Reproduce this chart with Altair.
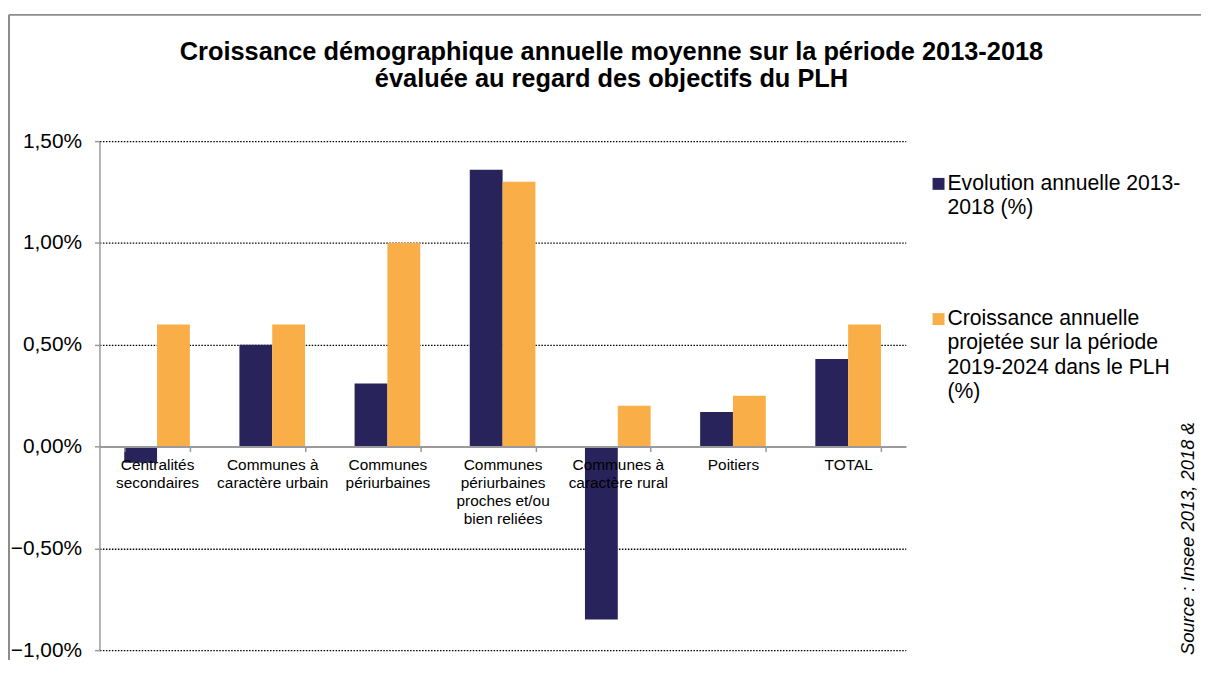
import altair as alt
import pandas as pd

# ---- data ----
categories = [
    "Centralités\nsecondaires",
    "Communes à\ncaractère urbain",
    "Communes\npériurbaines",
    "Communes\npériurbaines\nproches et/ou\nbien reliées",
    "Communes à\ncaractère rural",
    "Poitiers",
    "TOTAL",
]
series = [
    "Evolution annuelle 2013-2018 (%)",
    "Croissance annuelle projetée sur la période 2019-2024 dans le PLH (%)",
]
evolution = [-0.08, 0.50, 0.31, 1.36, -0.85, 0.17, 0.43]
projection = [0.60, 0.60, 1.00, 1.30, 0.20, 0.25, 0.60]
legend_lines = [
    ["Evolution annuelle 2013-", "2018 (%)"],
    ["Croissance annuelle", "projetée sur la période", "2019-2024 dans le PLH", "(%)"],
]
colors = ["#29235C", "#F9AE48"]
y_ticks = [-1.0, -0.5, 0.0, 0.5, 1.0, 1.5]
y_domain = [-1.0, 1.5]
title_lines = [
    "Croissance démographique annuelle moyenne sur la période 2013-2018",
    "évaluée au regard des objectifs du PLH",
]
source_text = "Source : Insee 2013, 2018 &"

rows = []
for c, v in zip(categories, evolution):
    rows.append({"categorie": c, "serie": series[0], "valeur": v})
for c, v in zip(categories, projection):
    rows.append({"categorie": c, "serie": series[1], "valeur": v})
df = pd.DataFrame(rows)

W, H = 811, 512
FONT = "Liberation Sans"
zero_offset = -H * (0 - y_domain[0]) / (y_domain[1] - y_domain[0])

bars = alt.Chart(df).mark_bar().encode(
    x=alt.X(
        "categorie:N",
        sort=categories,
        scale=alt.Scale(paddingInner=0.43, paddingOuter=0.215),
        axis=alt.Axis(
            title=None,
            labelExpr="split(datum.label, '\\n')",
            labelAngle=0,
            labelFont=FONT,
            labelFontSize=15.5,
            labelLineHeight=18.3,
            labelColor="#000000",
            labelPadding=6,
            labelLimit=300,
            tickBand="extent",
            tickSize=5,
            tickColor="#9a9a9a",
            tickWidth=1.5,
            domainColor="#9a9a9a",
            domainWidth=2,
            offset=zero_offset,
            zindex=1,
        ),
    ),
    xOffset=alt.XOffset("serie:N", sort=series, scale=alt.Scale(paddingInner=0, paddingOuter=0)),
    y=alt.Y(
        "valeur:Q",
        scale=alt.Scale(domain=y_domain, nice=False),
        axis=alt.Axis(
            title=None,
            values=y_ticks,
            labelExpr="replace(format(datum.value, '.2f'), '.', ',') + '%'",
            labelFont=FONT,
            labelFontSize=21,
            labelColor="#000000",
            labelPadding=13,
            tickSize=5,
            tickColor="#9a9a9a",
            tickWidth=1.5,
            domainColor="#9a9a9a",
            domainWidth=1.5,
            grid=True,
            gridColor="#000000",
            gridDash=[1.5, 1.5],
            gridWidth=1.3,
        ),
    ),
    color=alt.Color("serie:N", scale=alt.Scale(domain=series, range=colors), legend=None),
)

one = alt.Data(values=[{"k": 1}])

layers = [bars]

# legend (manual, multi-line labels); y = first-line centre
leg_y = [43, 179]
for i in range(len(series)):
    layers.append(
        alt.Chart(one).mark_square(size=144, opacity=1, color=colors[i]).encode(
            x=alt.value(844), y=alt.value(leg_y[i])
        )
    )
    layers.append(
        alt.Chart(one).mark_text(
            text=legend_lines[i], align="left", baseline="middle", lineHeight=24.5,
            fontSize=21.3, font=FONT, color="#000000",
        ).encode(x=alt.value(853), y=alt.value(leg_y[i]))
    )

# title
layers.append(
    alt.Chart(one).mark_text(
        text=title_lines, align="center", baseline="middle", lineHeight=28,
        fontSize=25.5, fontWeight="bold", font=FONT, color="#000000",
    ).encode(x=alt.value(515), y=alt.value(-90))
)

# source (rotated)
layers.append(
    alt.Chart(one).mark_text(
        text=source_text, angle=270, align="left", baseline="alphabetic",
        fontSize=18.5, fontStyle="italic", font=FONT, color="#000000",
    ).encode(x=alt.value(1101), y=alt.value(517))
)

# outer frame
layers.append(
    alt.Chart(one).mark_rule(color="#8c8c8c", strokeWidth=2).encode(
        x=alt.value(-91), y=alt.value(-127), y2=alt.value(530)
    )
)
layers.append(
    alt.Chart(one).mark_rule(color="#8c8c8c", strokeWidth=2).encode(
        x=alt.value(-91), x2=alt.value(1110), y=alt.value(-127)
    )
)

chart = alt.layer(*layers).properties(
    width=W,
    height=H,
    padding={"left": 92, "top": 132, "right": 297, "bottom": 8},
    autosize=alt.AutoSizeParams(type="none"),
).configure_view(stroke=None)

chart.save("out.html", embed_options={"renderer": "svg", "actions": False})
